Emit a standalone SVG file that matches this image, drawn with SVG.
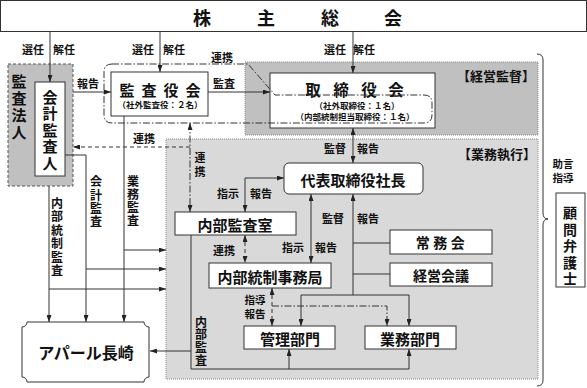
<svg xmlns="http://www.w3.org/2000/svg" width="587" height="388" viewBox="0 0 587 388">
<defs>
<marker id="ah" viewBox="0 0 10 10" refX="10" refY="5" markerWidth="7" markerHeight="5" preserveAspectRatio="none" orient="auto-start-reverse" markerUnits="userSpaceOnUse">
<path d="M0,0 L10,5 L0,10 z" fill="#222"/>
</marker>
<style>
text{font-family:"Noto Sans CJK JP","Noto Sans CJK SC",sans-serif;fill:#111;dominant-baseline:central;text-anchor:middle}
.lbl{font-size:11px;font-weight:700}
.lb2{font-size:10.5px;font-weight:700}
.vl{font-size:12px;font-weight:700;writing-mode:vertical-rl}
.v{writing-mode:vertical-rl}
.n{font-size:15px;font-weight:700}
.s{font-size:8.5px;font-weight:700}
.node{fill:#fff;stroke:#333;stroke-width:1}
.ln{fill:none;stroke:#333;stroke-width:1}
.dash{fill:none;stroke:#333;stroke-width:1;stroke-dasharray:4,3}
.dd{fill:none;stroke:#333;stroke-width:1;stroke-dasharray:7,2,1.5,2}
.arr{marker-end:url(#ah)}
.arr2{marker-start:url(#ah);marker-end:url(#ah)}
</style>
</defs>
<rect width="587" height="388" fill="#fff"/>

<!-- background regions -->
<g id="region-audit-firm-bg">
<rect x="8" y="64" width="65" height="122" fill="#c0c0c0" stroke="#555" stroke-dasharray="3,2"/>
</g>
<g id="region-keiei-kantoku">
<rect x="245" y="62" width="293" height="73" fill="#c0c0c0" stroke="#888" stroke-dasharray="1,1"/>
<text x="496" y="75" style="font-size:13px;font-weight:700">【経営監督】</text>
</g>
<g id="region-gyomu-shikko">
<rect x="166" y="139" width="372" height="240" fill="#d9d9d9" stroke="#888" stroke-dasharray="1,1"/>
<text x="497" y="153" style="font-size:13px;font-weight:700">【業務執行】</text>
</g>
<g id="brace">
<path class="ln" d="M537,54 Q543,54 543,60 V213 Q543,219 548,219 Q543,219 543,225 V380 Q543,386 537,386"/>
</g>

<!-- nodes -->
<g id="kabunushi-sokai">
<rect class="node" x="0.5" y="0.5" width="586" height="31"/>
<text x="202" y="17" style="font-size:18px;font-weight:700">株</text>
<text x="266" y="17" style="font-size:18px;font-weight:700">主</text>
<text x="330" y="17" style="font-size:18px;font-weight:700">総</text>
<text x="393" y="17" style="font-size:18px;font-weight:700">会</text>
</g>
<g id="kansa-hojin">
<text class="n v" x="19" y="107.5" style="letter-spacing:2px">監査法人</text>
</g>
<g id="kaikei-kansanin">
<rect class="node" x="35" y="82" width="30" height="94"/>
<text class="n v" x="50" y="131" style="letter-spacing:1.5px">会計監査人</text>
</g>
<g id="kansayakukai">
<rect class="node" x="111" y="72" width="97" height="44"/>
<text class="n" x="127" y="89">監</text>
<text class="n" x="149" y="89">査</text>
<text class="n" x="171" y="89">役</text>
<text class="n" x="193" y="89">会</text>
<text class="s" x="160" y="104">（社外監査役：２名）</text>
</g>
<g id="torishimariyakukai">
<rect class="node" x="270" y="73" width="165" height="55"/>
<text x="313" y="88.5" style="font-size:15.5px;font-weight:700">取</text>
<text x="341" y="88.5" style="font-size:15.5px;font-weight:700">締</text>
<text x="369" y="88.5" style="font-size:15.5px;font-weight:700">役</text>
<text x="396" y="88.5" style="font-size:15.5px;font-weight:700">会</text>
<text class="s" x="357" y="105">（社外取締役：１名）</text>
<text class="s" x="355" y="116">（内部統制担当取締役：１名）</text>
</g>
<g id="renkei-group">
<path class="dd" d="M112,64 H248 L275,95 H424 Q432,95 432,103 V115 Q432,123 424,123 H112 Q104,123 104,115 V72 Q104,64 112,64 Z"/>
</g>
<g id="daihyo">
<rect class="node" x="284" y="163" width="139" height="31" rx="5"/>
<text class="n" x="353" y="179">代表取締役社長</text>
</g>
<g id="naibu-kansashitsu">
<rect class="node" x="175" y="212" width="121" height="23"/>
<text class="n" x="235" y="224">内部監査室</text>
</g>
<g id="naibu-tosei-jimukyoku">
<rect class="node" x="209" y="263" width="122" height="25"/>
<text class="n" x="270" y="276">内部統制事務局</text>
</g>
<g id="jomukai">
<rect class="node" x="390" y="230" width="102" height="24"/>
<text x="442" y="242" style="font-size:14px;font-weight:700;letter-spacing:3.5px">常務会</text>
</g>
<g id="keiei-kaigi">
<rect class="node" x="390" y="263" width="102" height="23"/>
<text x="441" y="275" style="font-size:14px;font-weight:700">経営会議</text>
</g>
<g id="kanri-bumon">
<rect class="node" x="244" y="326" width="91" height="23"/>
<text class="n" x="290" y="338">管理部門</text>
</g>
<g id="gyomu-bumon">
<rect class="node" x="365" y="326" width="91" height="23"/>
<text class="n" x="410" y="338">業務部門</text>
</g>
<g id="apar-nagasaki">
<path class="node" d="M27,322 H144 A5,5 0 0 0 149,327 V377 A5,5 0 0 0 144,382 H27 A5,5 0 0 0 22,377 V327 A5,5 0 0 0 27,322 Z"/>
<text x="86" y="352" style="font-size:16px;font-weight:700">アパール長崎</text>
</g>
<g id="komon-bengoshi">
<rect class="node" x="556" y="193" width="29" height="94"/>
<text class="v" x="570" y="247" style="font-size:14px;font-weight:700;letter-spacing:2.5px">顧問弁護士</text>
<text class="lb2" x="563" y="163">助言</text>
<text class="lb2" x="563" y="177">指導</text>
</g>

<!-- connectors -->
<g id="connectors">
<path class="ln arr" d="M50,31 V82"/>
<path class="ln arr" d="M160,31 V72"/>
<path class="ln arr" d="M353,31 V73"/>
<path class="ln arr" d="M73,92 H111"/>
<path class="ln arr" d="M208,92 H270"/>
<path class="ln arr2" d="M353,128 V163"/>
<path class="ln arr2" d="M245,212 V178 H284"/>
<path class="ln arr2" d="M311,194 V263"/>
<path class="ln arr" d="M353,295 V194"/>
<path class="ln" d="M353,243 H390 M353,274 H390 M301,295 H409"/>
<path class="ln arr" d="M301,295 V326"/>
<path class="ln arr" d="M409,295 V326"/>
<path class="ln" d="M191,235 V369 H409"/>
<path class="ln arr" d="M289,369 V349"/>
<path class="ln arr" d="M409,369 V349"/>
<path class="ln arr" d="M191,351 H150"/>
<path class="ln arr" d="M49,186 V322"/>
<path class="ln arr" d="M49,289 H166"/>
<path class="ln arr" d="M65,155 H86 V322"/>
<path class="ln arr" d="M86,269 H166"/>
<path class="ln arr" d="M124,116 V322"/>
<path class="ln arr" d="M124,250 H166"/>
<path class="dd arr2" d="M190,123 V212"/>
<path class="dash arr" d="M190,147 H73"/>
<path class="dash arr2" d="M245,235 V263"/>
<path class="dash arr2" d="M272,288 V326"/>
<path class="dd arr" d="M272,306 H387 V326"/>
</g>

<!-- connector labels -->
<g id="labels">
<text class="lbl" x="33" y="49">選任</text>
<text class="lbl" x="64" y="49">解任</text>
<text class="lbl" x="143" y="49">選任</text>
<text class="lbl" x="174" y="49">解任</text>
<text class="lbl" x="335" y="49">選任</text>
<text class="lbl" x="364" y="49">解任</text>
<text class="lbl" x="88" y="83">報告</text>
<text class="lbl" x="224" y="83">監査</text>
<text class="lbl" x="222" y="57">連携</text>
<text class="lbl" x="144" y="138">連携</text>
<text class="lbl v" x="200" y="166" style="letter-spacing:3px">連携</text>
<text class="lbl" x="335" y="148">監督</text>
<text class="lbl" x="368" y="148">報告</text>
<text class="lbl" x="228" y="193">指示</text>
<text class="lbl" x="261" y="193">報告</text>
<text class="lbl" x="333" y="218">監督</text>
<text class="lbl" x="368" y="218">報告</text>
<text class="lbl" x="224" y="250">連携</text>
<text class="lbl" x="293" y="247">指示</text>
<text class="lbl" x="326" y="247">報告</text>
<text class="lb2" x="255" y="299.5">指導</text>
<text class="lb2" x="255" y="313.5">報告</text>
<text class="vl" x="57" y="237.5" style="letter-spacing:1.5px">内部統制監査</text>
<text class="vl" x="96" y="202.5" style="letter-spacing:1.3px">会計監査</text>
<text class="vl" x="133" y="201" style="letter-spacing:1px">業務監査</text>
<text class="vl" x="201" y="341.5" style="letter-spacing:0.7px">内部監査</text>
</g>
</svg>
